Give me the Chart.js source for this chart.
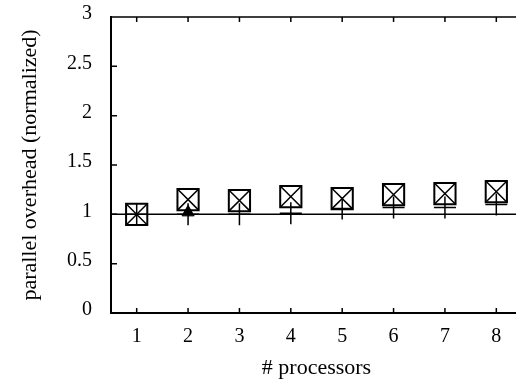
<!DOCTYPE html>
<html>
<head>
<meta charset="utf-8">
<script src="https://cdn.jsdelivr.net/npm/chart.js@4.4.0/dist/chart.umd.min.js"></script>
<style>
  html, body { margin: 0; padding: 0; background: #fff; overflow: hidden; }
</style>
</head>
<body>
<canvas id="chart" width="539" height="383"></canvas>
<script>
// values
const processors = [1, 2, 3, 4, 5, 6, 7, 8];
const overheadBoxes = [1.00, 1.15, 1.14, 1.18, 1.16, 1.20, 1.21, 1.23];
const overheadPlus = [1.00, 1.00, 1.00, 1.01, 1.06, 1.07, 1.07, 1.10];
const overheadTri = [null, 1.02, null, null, null, null, null, null];
const yTicks = [0, 0.5, 1, 1.5, 2, 2.5, 3];
const baseline = 1;

const toPoints = arr => processors
  .map((p, i) => ({ x: p, y: arr[i] }))
  .filter(pt => pt.y !== null);

const serif = 'Liberation Serif, Times New Roman, serif';

// frame top + inward tick marks
const frame = {
  id: 'frame',
  afterDraw(chart) {
    const { ctx, chartArea: a, scales: { x, y } } = chart;
    ctx.save();
    ctx.strokeStyle = '#000';
    ctx.lineWidth = 1.5;
    ctx.beginPath();
    ctx.moveTo(a.left, a.top);
    ctx.lineTo(a.right, a.top);
    x.ticks.forEach(t => {
      const px = x.getPixelForValue(t.value);
      ctx.moveTo(px, a.bottom); ctx.lineTo(px, a.bottom - 5);
      ctx.moveTo(px, a.top); ctx.lineTo(px, a.top + 5);
    });
    y.ticks.forEach(t => {
      const py = y.getPixelForValue(t.value);
      ctx.moveTo(a.left, py); ctx.lineTo(a.left + 6, py);
    });
    ctx.stroke();
    ctx.restore();
  }
};

new Chart(document.getElementById('chart').getContext('2d'), {
  type: 'scatter',
  data: {
    datasets: [
      {
        data: toPoints(overheadBoxes),
        pointStyle: 'rect',
        pointRadius: 15,
        borderColor: '#000',
        backgroundColor: 'rgba(0,0,0,0)',
        borderWidth: 2,
        showLine: false
      },
      {
        data: toPoints(overheadBoxes),
        pointStyle: 'crossRot',
        pointRadius: 15,
        borderColor: '#000',
        borderWidth: 1.5,
        showLine: false
      },
      {
        data: toPoints(overheadPlus),
        pointStyle: 'cross',
        pointRadius: 11,
        borderColor: '#000',
        borderWidth: 1.5,
        showLine: false
      },
      {
        data: toPoints(overheadTri),
        pointStyle: 'triangle',
        pointRadius: 7,
        borderColor: '#000',
        backgroundColor: '#000',
        borderWidth: 1,
        showLine: false
      },
      {
        data: [{ x: 0.5, y: baseline }, { x: 8.5, y: baseline }],
        showLine: true,
        pointRadius: 0,
        borderColor: '#000',
        borderWidth: 1.5
      }
    ]
  },
  options: {
    responsive: false,
    animation: false,
    layout: { padding: { top: 14, right: 8, left: 0, bottom: 0 } },
    plugins: { legend: { display: false }, tooltip: { enabled: false } },
    scales: {
      x: {
        type: 'linear',
        min: 0.5,
        max: 8.5,
        afterBuildTicks: s => { s.ticks = processors.map(v => ({ value: v })); },
        afterFit: s => { s.height = 70; s.paddingLeft = 0; s.paddingRight = 0; },
        grid: { drawOnChartArea: false, drawTicks: false },
        border: { display: true, color: '#000', width: 2 },
        ticks: { color: '#000', padding: 12, font: { family: serif, size: 20 } },
        title: {
          display: true,
          text: '# processors',
          color: '#000',
          padding: { top: 0, bottom: 2 },
          font: { family: serif, size: 22 }
        }
      },
      y: {
        min: 0,
        max: 3,
        afterBuildTicks: s => { s.ticks = yTicks.map(v => ({ value: v })); },
        afterFit: s => { s.width = 111; s.paddingTop = 0; s.paddingBottom = 0; },
        grid: { drawOnChartArea: false, drawTicks: false },
        border: { display: true, color: '#000', width: 2 },
        ticks: {
          color: '#000', padding: 19, labelOffset: -3,
          font: { family: serif, size: 20 },
          callback: v => String(v)
        },
        title: {
          display: true,
          text: 'parallel overhead (normalized)',
          color: '#000',
          padding: { top: 17, bottom: 0 },
          font: { family: serif, size: 22 }
        }
      }
    }
  },
  plugins: [frame]
});
</script>
</body>
</html>
